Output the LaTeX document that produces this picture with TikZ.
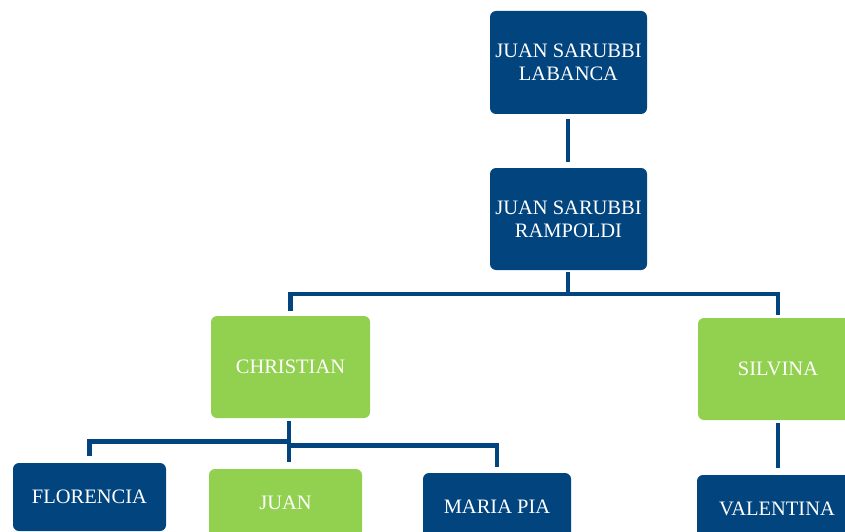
\documentclass[tikz,border=0pt]{standalone}
\usepackage{fontspec}
\setmainfont{Liberation Serif}
\definecolor{navy}{RGB}{2,68,125}
\definecolor{leaf}{RGB}{146,208,80}
\begin{document}
\begin{tikzpicture}[x=1pt,y=-1pt,
  person/.style={rounded corners=6pt, text=white, align=center, inner sep=0pt,
    font=\fontsize{20.5}{23}\selectfont},
  bluebox/.style={person, fill=navy},
  greenbox/.style={person, fill=leaf},
  link/.style={draw=navy, line width=4.5pt}]
\useasboundingbox (0,0) rectangle (845,532);
\clip (0,0) rectangle (845,532);

% generations
\node[bluebox, minimum width=157pt, minimum height=103pt] (labanca) at (568.5,62.5) {JUAN SARUBBI\\LABANCA};
\node[bluebox, minimum width=157pt, minimum height=102pt] (rampoldi) at (568.5,219) {JUAN SARUBBI\\RAMPOLDI};
\node[greenbox, minimum width=159pt, minimum height=102pt] (christian) at (290.5,367) {CHRISTIAN};
\node[greenbox, minimum width=160pt, minimum height=102pt] (silvina) at (778,369) {SILVINA};
\node[bluebox, minimum width=153pt, minimum height=68pt] (florencia) at (89.5,497) {FLORENCIA};
\node[greenbox, minimum width=153pt, minimum height=68pt] (juan) at (285.5,503) {JUAN};
\node[bluebox, minimum width=148pt, minimum height=68pt] (mariapia) at (497,507) {MARIA PIA};
\node[bluebox, minimum width=160pt, minimum height=68pt] (valentina) at (777,509) {VALENTINA};

% junction points
\coordinate (j1) at (568,294);
\coordinate (j2) at (289,441.5);
\coordinate (j3) at (289,445.5);

% connectors
\draw[link] ([yshift=-5pt]labanca.south -| j1) -- ([yshift=6pt]rampoldi.north -| j1);
\draw[link] ([yshift=-2pt]rampoldi.south -| j1) -- (j1);
\draw[link] ([yshift=5pt]christian.north) |- (j1) -| ([yshift=3pt]silvina.north);
\draw[link] ([yshift=-3pt]christian.south -| j2) -- (j2);
\draw[link] ([yshift=7pt]florencia.north) |- (j2) -- ([yshift=7pt]juan.north -| j2);
\draw[link] (j3) -| ([yshift=6pt]mariapia.north);
\draw[link] ([yshift=-3pt]silvina.south) -- ([yshift=7pt]valentina.north -| silvina.south);
\end{tikzpicture}
\end{document}
